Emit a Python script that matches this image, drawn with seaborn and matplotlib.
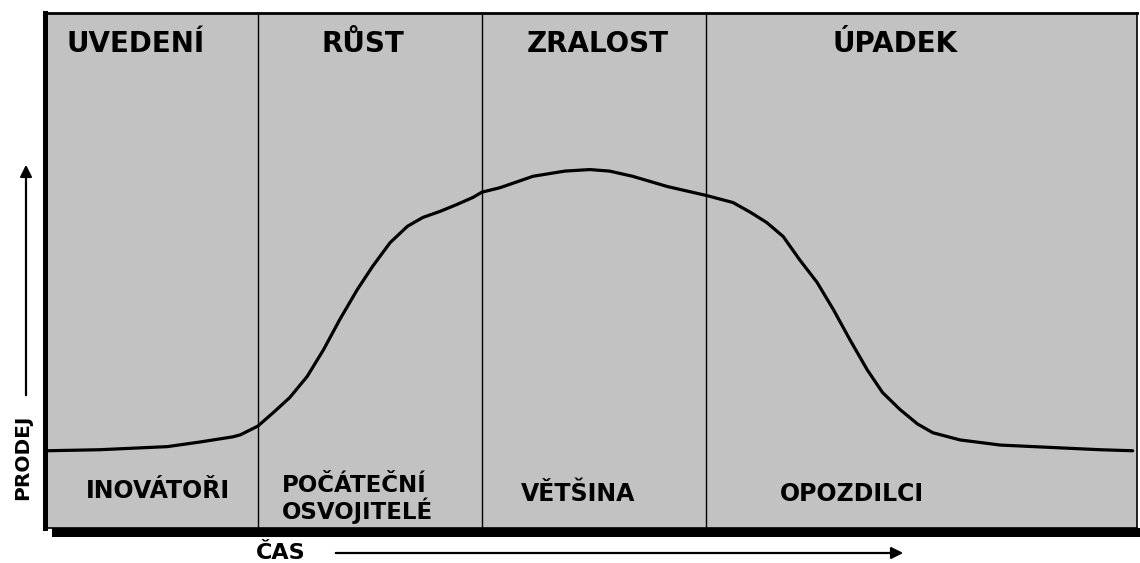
import matplotlib.pyplot as plt
import seaborn as sns
from matplotlib.patches import Rectangle

sns.set_style("white")
plt.rcParams['font.family'] = ['DejaVu Sans']
plt.rcParams['text.color'] = 'black'

# ---------------- DATA ----------------
# time and sales on a 0-100 scale
time = [0.2, 5.0, 11.2, 14.2, 17.2, 17.9, 19.5, 20.9, 22.4, 24.0, 25.5, 27.0, 28.6,
        30.0, 31.6, 33.2, 34.6, 36.2, 37.7, 39.2, 40.0, 41.7, 44.7, 47.6, 49.9,
        51.7, 53.8, 57.0, 60.5, 63.0, 64.6, 66.1, 67.6, 69.1, 70.7, 72.2, 73.7,
        75.3, 76.7, 78.3, 79.9, 81.3, 83.8, 87.5, 96.6, 99.6]
sales = [15.0, 15.2, 15.8, 16.7, 17.7, 18.1, 19.8, 22.4, 25.3, 29.4, 34.6, 40.5, 46.3,
         50.8, 55.4, 58.6, 60.3, 61.5, 62.8, 64.2, 65.2, 66.1, 68.3, 69.3, 69.6,
         69.3, 68.3, 66.3, 64.6, 63.2, 61.3, 59.3, 56.6, 52.1, 47.7, 42.4, 36.6,
         30.7, 26.3, 23.0, 20.2, 18.5, 17.1, 16.1, 15.2, 15.0]

stage_bounds = [19.5, 40.0, 60.5]
stages = ["UVEDENÍ", "RŮST", "ZRALOST", "ÚPADEK"]
adopters = ["INOVÁTOŘI", "POČÁTEČNÍ\nOSVOJITELÉ", "VĚTŠINA", "OPOZDILCI"]
y_label = "PRODEJ"
x_label = "ČAS"

# ---------------- FIGURE ----------------
W, H = 1140, 563
fig = plt.figure(figsize=(W / 100, H / 100), dpi=100)

# background layer in pixel coordinates (shadow, axis arrows, labels)
bg = fig.add_axes([0, 0, 1, 1])
bg.set_xlim(0, W)
bg.set_ylim(H, 0)
bg.axis("off")
bg.add_patch(Rectangle((52, 528), W - 52, 9, color="black", lw=0))
bg.annotate("", xy=(26, 162), xytext=(26, 398),
            arrowprops=dict(arrowstyle="-|>,head_length=0.7,head_width=0.35",
                            color="black", lw=1.6))
bg.annotate("", xy=(906, 553), xytext=(333, 553),
            arrowprops=dict(arrowstyle="-|>,head_length=0.7,head_width=0.35",
                            color="black", lw=1.6))
bg.text(23, 457, y_label, rotation=90, ha="center", va="center",
        fontsize=14.5, fontweight="bold")
bg.text(281, 553, x_label, ha="center", va="center",
        fontsize=16, fontweight="bold")

# main panel
ax = fig.add_axes([45 / W, (H - 528) / H, (1137 - 45) / W, (528 - 13) / H])
ax.set_facecolor("#c2c2c2")
sns.lineplot(x=time, y=sales, ax=ax, sort=False, estimator=None,
             color="black", linewidth=2.3)
for b in stage_bounds:
    ax.axvline(b, color="black", lw=1.0)
ax.set_xlim(0, 100)
ax.set_ylim(0, 100)
ax.set_xticks([])
ax.set_yticks([])
ax.set_xlabel("")
ax.set_ylabel("")

for side, lw in [("left", 3.6), ("top", 2.0), ("right", 1.2), ("bottom", 1.2)]:
    ax.spines[side].set_visible(True)
    ax.spines[side].set_color("black")
    ax.spines[side].set_linewidth(lw)

# stage titles
stage_x = [8.3, 29.1, 50.6, 77.8]
for name, x in zip(stages, stage_x):
    ax.text(x, 94.0, name, ha="center", va="center", fontsize=20, fontweight="bold")

# adopter groups
ax.text(10.3, 7.2, adopters[0], ha="center", va="center", fontsize=17, fontweight="bold")
ax.text(21.7, 5.6, adopters[1], ha="left", va="center", fontsize=16.5,
        fontweight="bold", linespacing=1.0)
ax.text(48.8, 6.6, adopters[2], ha="center", va="center", fontsize=17, fontweight="bold")
ax.text(73.9, 6.6, adopters[3], ha="center", va="center", fontsize=17, fontweight="bold")

fig.savefig("out.png", dpi=100)
